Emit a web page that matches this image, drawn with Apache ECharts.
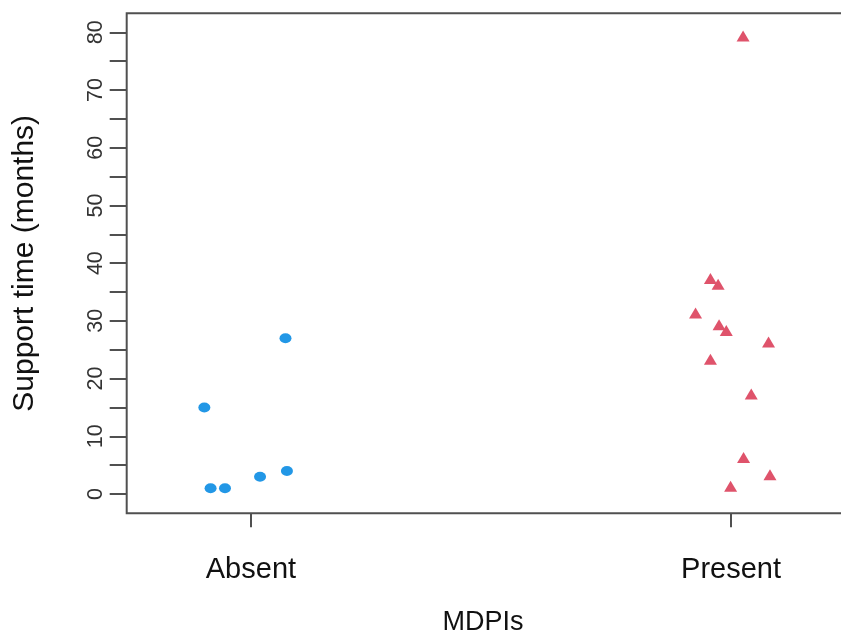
<!DOCTYPE html>
<html>
<head>
<meta charset="utf-8">
<script src="https://cdn.jsdelivr.net/npm/echarts@6/dist/echarts.min.js"></script>
<style>
html,body{margin:0;padding:0;background:#fff;}
#chart{width:841px;height:635px;}
</style>
</head>
<body>
<div id="chart"></div>
<script>
// ---- data ----
const categories = ['Absent', 'Present'];
const categoryPositions = [1, 2];
// stripchart jitter (horizontal offset of each point) and values (months)
const absentJitter = [1.072, 0.903, 0.916, 0.946, 1.019, 1.075];
const absentMonths = [27, 15, 1, 1, 3, 4];
const presentJitter = [2.025, 1.957, 1.973, 1.926, 1.975, 1.990, 2.078, 1.957, 2.042, 2.026, 2.081, 1.999];
const presentMonths = [79, 37, 36, 31, 29, 28, 26, 23, 17, 6, 3, 1];
const yTickValues = [0, 5, 10, 15, 20, 25, 30, 35, 40, 45, 50, 55, 60, 65, 70, 75, 80];
const yLabelValues = [0, 10, 20, 30, 40, 50, 60, 70, 80];
const xTitle = 'MDPIs';
const yTitle = 'Support time (months)';

const absentData = absentJitter.map((x, i) => [x, absentMonths[i]]);
const presentData = presentJitter.map((x, i) => [x, presentMonths[i]]);

const chart = echarts.init(document.getElementById('chart'), null, {renderer: 'canvas'});
const FONT = '"Liberation Sans", Arial, sans-serif';
chart.setOption({
  animation: false,
  backgroundColor: '#ffffff',
  grid: {
    left: 126.7, top: 13.3, bottom: 121.7, right: -14.3,
    show: true, borderColor: '#505050', borderWidth: 2,
    backgroundColor: 'transparent',
    containLabel: false, outerBoundsMode: 'none'
  },
  xAxis: {
    type: 'value', min: 0.7413, max: 2.2587,
    axisLine: {show: false, onZero: false},
    splitLine: {show: false},
    axisTick: {show: true, customValues: categoryPositions, length: 14,
      lineStyle: {color: '#505050', width: 2}},
    axisLabel: {show: true, customValues: categoryPositions, margin: 42,
      fontFamily: FONT, fontSize: 29, lineHeight: 29, color: '#111',
      formatter: v => categories[Math.round(v) - 1]},
    name: xTitle, nameLocation: 'middle', nameGap: 95.5,
    nameTextStyle: {fontFamily: FONT, fontSize: 27, lineHeight: 27, color: '#111',
      padding: [0, 16, 0, 0]}
  },
  yAxis: {
    type: 'value', min: -3.34, max: 83.29,
    axisLine: {show: false, onZero: false},
    splitLine: {show: false},
    axisTick: {show: true, customValues: yTickValues, length: 17,
      lineStyle: {color: '#505050', width: 2}},
    axisLabel: {show: true, customValues: yLabelValues, rotate: 90, margin: 20,
      fontFamily: FONT, fontSize: 21.5, lineHeight: 21.5, color: '#333'},
    name: yTitle, nameLocation: 'middle', nameGap: 87, nameRotate: 90,
    nameTextStyle: {fontFamily: FONT, fontSize: 30, lineHeight: 30, color: '#111'}
  },
  series: [
    {
      name: categories[0], type: 'scatter', data: absentData,
      symbol: 'circle', symbolSize: [12, 10],
      itemStyle: {color: '#2297E6', opacity: 1},
      emphasis: {disabled: true}
    },
    {
      name: categories[1], type: 'scatter', data: presentData,
      symbol: 'triangle', symbolSize: [13, 11], symbolOffset: [0, -2],
      itemStyle: {color: '#DF536B', opacity: 1},
      emphasis: {disabled: true}
    }
  ]
});
</script>
</body>
</html>
